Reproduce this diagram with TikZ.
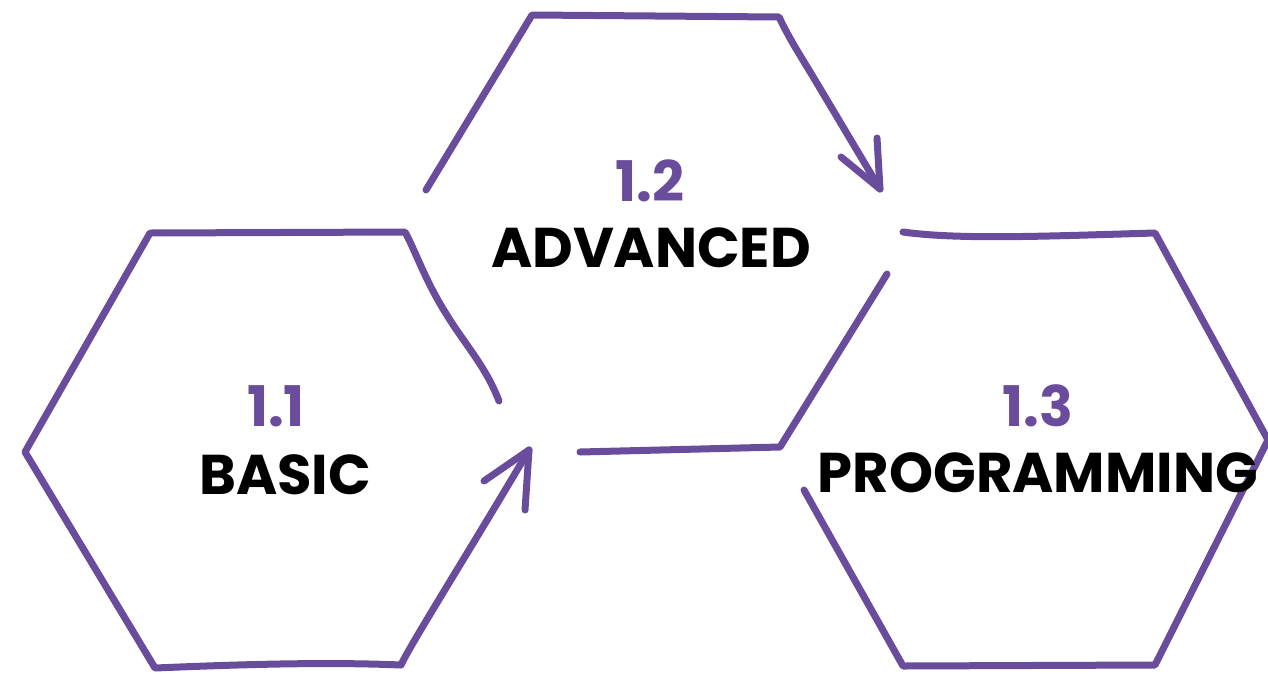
\documentclass[tikz,border=0pt]{standalone}
\usepackage{fontspec}
\setmainfont{Poppins}
\definecolor{hexpurple}{HTML}{6A4C9C}
\tikzset{
  edge/.style={draw=hexpurple, line width=7pt, line cap=round, line join=round},
  num/.style={text=hexpurple, font=\fontsize{56}{60}\selectfont\bfseries, inner sep=0pt},
  lab/.style={text=black, font=\fontsize{56}{60}\selectfont\bfseries, inner sep=0pt}
}
\begin{document}
\begin{tikzpicture}[x=1pt,y=-1pt]
\useasboundingbox (0,0) rectangle (1268,673);
% hexagon 1 (BASIC)
\coordinate (a1) at (499,401);
\coordinate (a2) at (405,232);
\coordinate (a3) at (150,233);
\coordinate (a4) at (25,452);
\coordinate (a5) at (155,668);
\coordinate (a6) at (401,665);
\coordinate (a7) at (529,450);
\coordinate (a7l) at (484,481);
\coordinate (a7d) at (525,510);
\draw[edge] (a1) .. controls (485,365) and (465,345) .. (445,312) .. controls (425,280) and (415,250) .. (a2) -- (a3) -- (a4) -- (a5) .. controls (250,664) and (330,662) .. (a6) .. controls (410,645) and (470,550) .. (a7);
\draw[edge] (a7l) -- (a7) -- (a7d);
% hexagon 2 (ADVANCED)
\coordinate (b1) at (426,190);
\coordinate (b2) at (532,15);
\coordinate (b3) at (779,17);
\coordinate (b4) at (880,189);
\coordinate (b4l) at (841,157);
\coordinate (b4u) at (877,138);
\coordinate (b5) at (580,452);
\coordinate (b6) at (780,447);
\coordinate (b7) at (887,274);
\draw[edge] (b1) -- (b2) -- (b3) .. controls (790,40) and (800,55) .. (815,80) -- (b4);
\draw[edge] (b4l) -- (b4) -- (b4u);
\draw[edge] (b5) -- (b6) -- (b7);
% hexagon 3 (PROGRAMMING)
\coordinate (c1) at (903,232);
\coordinate (c2) at (1155,233);
\coordinate (c3) at (1268,440);
\coordinate (c4) at (1155,665);
\coordinate (c5) at (903,666);
\coordinate (c6) at (804,490);
\draw[edge] (c1) .. controls (960,240) and (1050,236) .. (c2) -- (c3) -- (c4) -- (c5) -- (c6);
% labels
\node[num] (n1) at (276,406) {1.1};
\node[lab] (t1) at (285,475) {BASIC};
\node[num] (n2) at (650,181) {1.2};
\node[lab] (t2) at (651,248) {ADVANCED};
\node[num] (n3) at (1038,406) {1.3};
\node[lab] (t3) at (1038,473) {PROGRAMMING};
\end{tikzpicture}
\end{document}
